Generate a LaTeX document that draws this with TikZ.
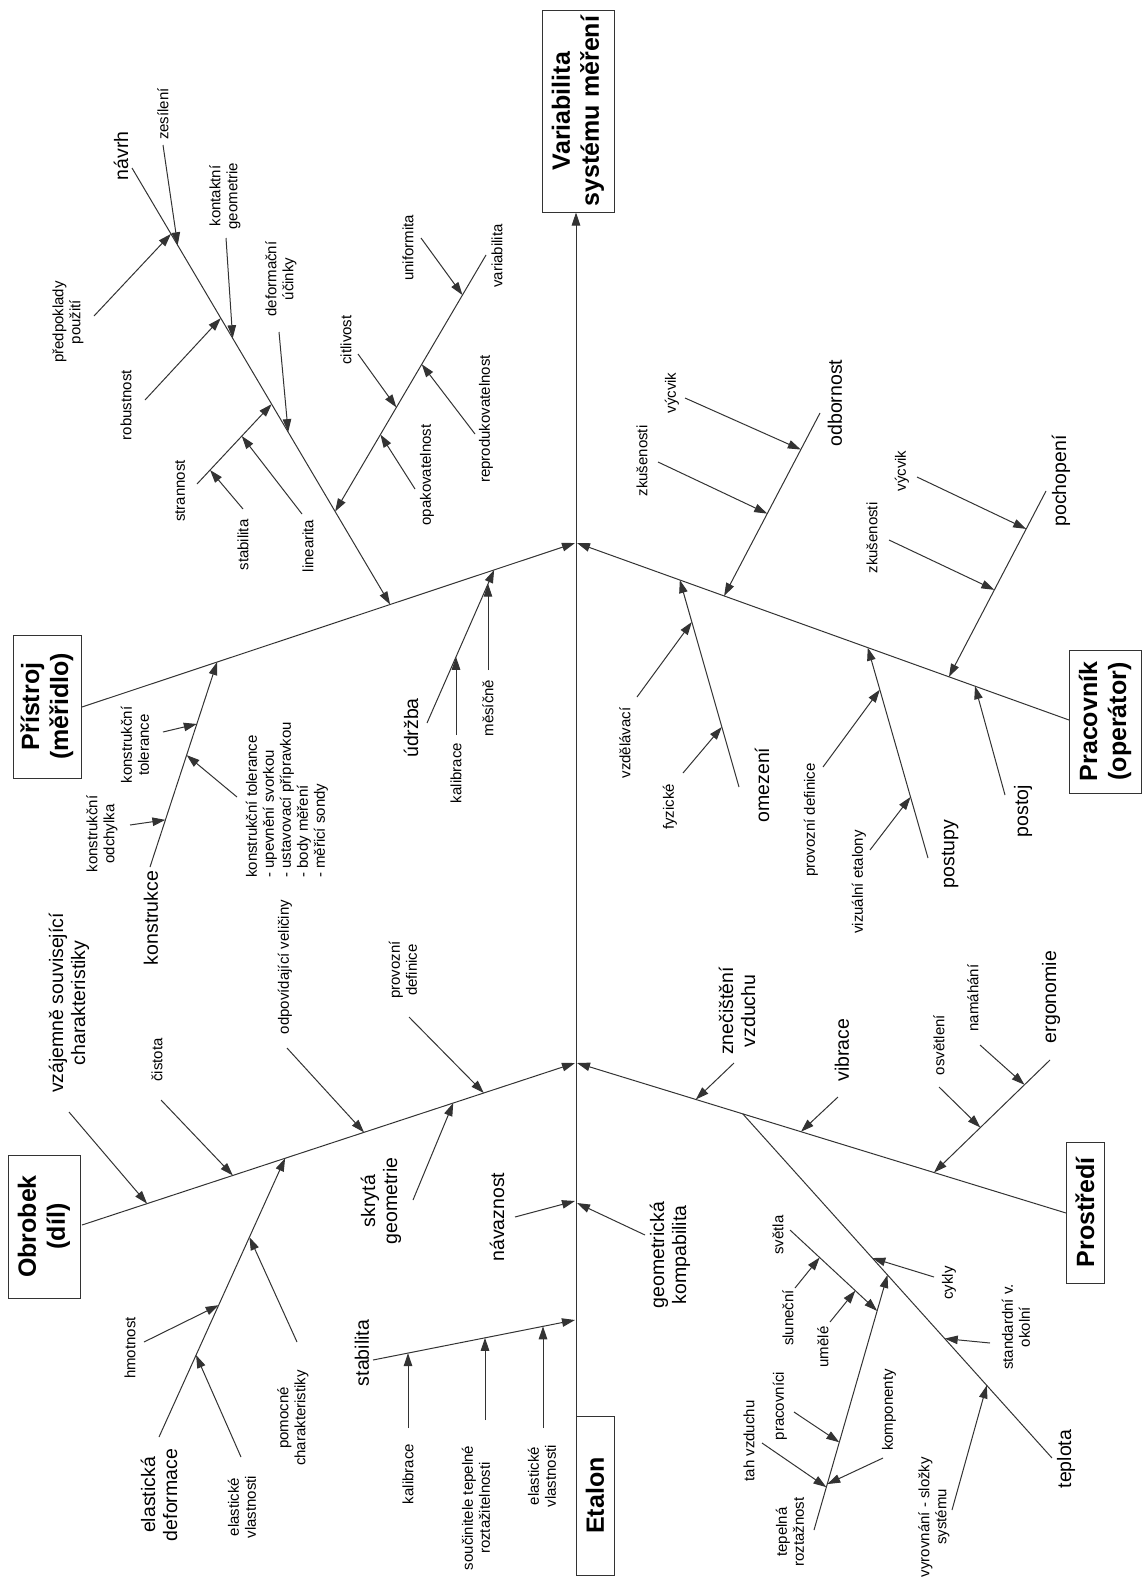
\documentclass[tikz,border=0pt]{standalone}
\usepackage{fontspec}
\setmainfont{Liberation Sans}
\usetikzlibrary{arrows.meta,calc}
\begin{document}
\begin{tikzpicture}[x=1pt,y=-1pt,
  ln/.style={line width=1pt,draw=black!80},
  arr/.style={ln,-{Triangle[length=13pt,width=8.5pt]}},
  sm/.style={rotate=90,inner sep=0pt,align=center,font=\fontsize{15}{17}\selectfont},
  md/.style={rotate=90,inner sep=0pt,align=center,font=\fontsize{19.5}{22}\selectfont},
  bx/.style={rotate=90,draw=black!80,line width=1pt,align=center,inner sep=0pt,font=\bfseries\fontsize{25}{29}\selectfont},
]
\useasboundingbox[fill=white] (0,0) rectangle (1146,1582);

% ---------- boxes ----------
\node[bx,minimum width=202pt,minimum height=72pt] (V) at (578,111) {Variabilita\\systému měření};
\node[bx,minimum width=143pt,minimum height=68pt] (P) at (47,706.5) {Přístroj\\(měřidlo)};
\node[bx,minimum width=143pt,minimum height=72pt] (O) at (44,1226.5) {Obrobek\\(díl)};
\node[bx,minimum width=143pt,minimum height=72pt] (W) at (1105,721.5) {Pracovník\\(operátor)};
\node[bx,minimum width=141pt,minimum height=38pt] (PS) at (1085,1212.5) {Prostředí};
\node[bx,minimum width=159pt,minimum height=38pt] (ET) at (595,1495.5) {Etalon};

% ---------- spine ----------
\coordinate (s0) at (576,1575);
\draw[arr] (s0) -- (s0 |- V.west);

% ---------- Přístroj ----------
\coordinate (pb1) at (82,707); \coordinate (pb2) at (575,543);
\coordinate (nb1) at (132,168); \coordinate (nb2) at ($(pb1)!0.625!(pb2)$);
\coordinate (vb1) at (486,255); \coordinate (vb2) at ($(nb1)!0.787!(nb2)$);
\coordinate (sb1) at (197,484); \coordinate (sb2) at ($(nb1)!0.541!(nb2)$);
\coordinate (kb1) at (150,867); \coordinate (kb2) at ($(pb1)!0.274!(pb2)$);
\coordinate (ub1) at (427,723); \coordinate (ub2) at ($(pb1)!0.836!(pb2)$);
\draw[arr] (pb1) -- (pb2);
\draw[arr] (nb1) -- (nb2);
\draw[arr] (vb1) -- (vb2);
\draw[arr] (sb1) -- (sb2);
\draw[arr] (kb1) -- (kb2);
\draw[arr] (ub1) -- (ub2);

\node[md] (navrh) at (121,156) {návrh};
\node[sm] (zes) at (163,114) {zesílení};
\node[sm] (pred) at (68,322) {předpoklady\\použití};
\node[sm] (kont) at (225,196) {kontaktní\\geometrie};
\node[sm] (rob) at (126,405) {robustnost};
\node[sm] (def) at (281,279) {deformační\\účinky};
\node[sm] (stra) at (180,491) {strannost};
\node[sm] (stab) at (243,545) {stabilita};
\node[sm] (lin) at (308,546) {linearita};
\node[sm] (var) at (497,256) {variabilita};
\node[sm] (uni) at (408,248) {uniformita};
\node[sm] (cit) at (346,340) {citlivost};
\node[sm] (rep) at (486,419) {reprodukovatelnost};
\node[sm] (opa) at (427,475) {opakovatelnost};
\node[md] (kons) at (151,918) {konstrukce};
\node[sm] (odch) at (102,834) {konstrukční\\odchylka};
\node[sm] (tol) at (135,745) {konstrukční\\tolerance};
\node[sm,align=left,anchor=west] (list) at (287,878) {konstrukční tolerance\\- upevnění svorkou\\- ustavovací přípravkou\\- body měření\\- měřicí sondy};
\node[md] (udr) at (411,728) {údržba};
\node[sm] (kalP) at (456,773) {kalibrace};
\node[sm] (mes) at (488,708) {měsíčně};

\coordinate (a1) at (94,316);   \draw[arr] (a1) -- ($(nb1)!0.151!(nb2)$);
\coordinate (a2) at (163,145);  \draw[arr] (a2) -- ($(nb1)!0.177!(nb2)$);
\coordinate (a3) at (145,400);  \draw[arr] (a3) -- ($(nb1)!0.344!(nb2)$);
\coordinate (a4) at (226,238);  \draw[arr] (a4) -- ($(nb1)!0.39!(nb2)$);
\coordinate (a5) at (279,332);  \draw[arr] (a5) -- ($(nb1)!0.605!(nb2)$);
\coordinate (a6) at (421,238);  \draw[arr] (a6) -- ($(vb1)!0.156!(vb2)$);
\coordinate (a7) at (475,434);  \draw[arr] (a7) -- ($(vb1)!0.426!(vb2)$);
\coordinate (a8) at (358,354);  \draw[arr] (a8) -- ($(vb1)!0.594!(vb2)$);
\coordinate (a9) at (415,489);  \draw[arr] (a9) -- ($(vb1)!0.70!(vb2)$);
\coordinate (a10) at (243,509); \draw[arr] (a10) -- ($(sb1)!0.175!(sb2)$);
\coordinate (a11) at (302,514); \draw[arr] (a11) -- ($(sb1)!0.6!(sb2)$);
\coordinate (a12) at (130,825); \draw[arr] (a12) -- ($(kb1)!0.23!(kb2)$);
\coordinate (a13) at (237,797); \draw[arr] (a13) -- ($(kb1)!0.546!(kb2)$);
\coordinate (a14) at (163,732); \draw[arr] (a14) -- ($(kb1)!0.698!(kb2)$);
\coordinate (a15) at (456,735); \coordinate (a15t) at (456,656.8); \draw[arr] (a15) -- (a15t);
\coordinate (a16) at (488,670); \coordinate (a16t) at (488,583.7); \draw[arr] (a16) -- (a16t);

% ---------- Pracovník ----------
\coordinate (wb1) at (1069,720); \coordinate (wb2) at (577,543);
\coordinate (ob1) at (820,413);  \coordinate (ob2) at ($(wb1)!0.701!(wb2)$);
\coordinate (cb1) at (1046,491); \coordinate (cb2) at ($(wb1)!0.244!(wb2)$);
\coordinate (mb1) at (739,787);  \coordinate (mb2) at ($(wb1)!0.791!(wb2)$);
\coordinate (qb1) at (928,858);  \coordinate (qb2) at ($(wb1)!0.409!(wb2)$);
\draw[arr] (wb1) -- (wb2);
\draw[arr] (ob1) -- (ob2);
\draw[arr] (cb1) -- (cb2);
\draw[arr] (mb1) -- (mb2);
\draw[arr] (qb1) -- (qb2);

\node[md] (odb) at (835,403) {odbornost};
\node[sm] (vyc1) at (672,393) {výcvik};
\node[sm] (zku1) at (642,461) {zkušenosti};
\node[md] (poch) at (1061,481) {pochopení};
\node[sm] (vyc2) at (902,471) {výcvik};
\node[sm] (zku2) at (872,538) {zkušenosti};
\node[sm] (vzd) at (625,743) {vzdělávací};
\node[sm] (fyz) at (670,807) {fyzické};
\node[md] (omez) at (762,785) {omezení};
\node[sm] (provW) at (811,820) {provozní definice};
\node[sm] (viz) at (859,882) {vizuální etalony};
\node[md] (post) at (950,854) {postupy};
\node[md] (postoj) at (1023,811) {postoj};

\coordinate (b1) at (685,398);  \draw[arr] (b1) -- ($(ob1)!0.2!(ob2)$);
\coordinate (b2) at (658,462);  \draw[arr] (b2) -- ($(ob1)!0.55!(ob2)$);
\coordinate (b3) at (917,477);  \draw[arr] (b3) -- ($(cb1)!0.204!(cb2)$);
\coordinate (b4) at (889,540);  \draw[arr] (b4) -- ($(cb1)!0.532!(cb2)$);
\coordinate (b5) at (637,697);  \draw[arr] (b5) -- ($(mb1)!0.797!(mb2)$);
\coordinate (b6) at (683,773);  \draw[arr] (b6) -- ($(mb1)!0.29!(mb2)$);
\coordinate (b7) at (823,767);  \draw[arr] (b7) -- ($(qb1)!0.8!(qb2)$);
\coordinate (b8) at (870,850);  \draw[arr] (b8) -- ($(qb1)!0.29!(qb2)$);
\coordinate (b9) at (1005,795); \draw[arr] (b9) -- ($(wb1)!0.191!(wb2)$);

% ---------- Obrobek ----------
\coordinate (obr1) at (82,1225); \coordinate (obr2) at (575,1063);
\coordinate (ed1) at (159,1437);  \coordinate (ed2) at ($(obr1)!0.412!(obr2)$);
\draw[arr] (obr1) -- (obr2);
\draw[arr] (ed1) -- (ed2);

\node[md] (vzaj) at (69,1003) {vzájemně související\\charakteristiky};
\node[sm] (cist) at (157,1060) {čistota};
\node[sm] (odp) at (285,967) {odpovídající veličiny};
\node[sm] (provO) at (403,970) {provozní\\definice};
\node[md] (skr) at (381,1201) {skrytá\\geometrie};
\node[md] (eldef) at (159,1495) {elastická\\deformace};
\node[sm] (hmot) at (130,1348) {hmotnost};
\node[sm] (elvO) at (242,1507) {elastické\\vlastnosti};
\node[sm] (pom) at (293,1418) {pomocné\\charakteristiky};

\coordinate (c1) at (69,1112);  \draw[arr] (c1) -- ($(obr1)!0.132!(obr2)$);
\coordinate (c2) at (161,1100); \draw[arr] (c2) -- ($(obr1)!0.306!(obr2)$);
\coordinate (c3) at (287,1048); \draw[arr] (c3) -- ($(obr1)!0.572!(obr2)$);
\coordinate (c4) at (413,1200); \draw[arr] (c4) -- ($(obr1)!0.753!(obr2)$);
\coordinate (c5) at (409,1017); \draw[arr] (c5) -- ($(obr1)!0.815!(obr2)$);
\coordinate (c6) at (144,1342); \draw[arr] (c6) -- ($(ed1)!0.473!(ed2)$);
\coordinate (c7) at (241,1457); \draw[arr] (c7) -- ($(ed1)!0.294!(ed2)$);
\coordinate (c8) at (297,1342); \draw[arr] (c8) -- ($(ed1)!0.717!(ed2)$);

% ---------- Etalon ----------
\coordinate (st1) at (373,1360); \coordinate (st2) at (575,1320);
\draw[arr] (st1) -- (st2);
\node[md] (stabE) at (362,1353) {stabilita};
\node[sm] (kalE) at (408,1474) {kalibrace};
\node[sm] (souc) at (476,1508) {součinitele tepelné\\roztažitelnosti};
\node[sm] (elvE) at (542,1476) {elastické\\vlastnosti};
\node[md] (nav) at (497,1217) {návaznost};
\node[md] (geo) at (670,1255) {geometrická\\kompabilita};

\coordinate (d1) at (408,1428); \coordinate (d1t) at (408,1353.1); \draw[arr] (d1) -- (d1t);
\coordinate (d2) at (485,1420); \coordinate (d2t) at (485,1337.8); \draw[arr] (d2) -- (d2t);
\coordinate (d3) at (543,1428); \coordinate (d3t) at (543,1326.3); \draw[arr] (d3) -- (d3t);
\coordinate (d4) at (515,1217); \coordinate (d4t) at (575,1201); \draw[arr] (d4) -- (d4t);
\coordinate (d5) at (645,1235); \coordinate (d5t) at (577,1203); \draw[arr] (d5) -- (d5t);

% ---------- Prostředí ----------
\coordinate (ps1) at (1066,1213); \coordinate (ps2) at (577,1063);
\coordinate (tb1) at ($(ps1)!0.661!(ps2)$); \coordinate (tb2) at (1052,1458);
\coordinate (er1) at (1050,1060); \coordinate (er2) at ($(ps1)!0.27!(ps2)$);
\coordinate (te1) at (814,1530);  \coordinate (te2) at ($(tb1)!0.468!(tb2)$);
\coordinate (sv1) at (790,1230);  \coordinate (sv2) at ($(te1)!0.859!(te2)$);
\draw[arr] (ps1) -- (ps2);
\draw[ln] (tb2) -- (tb1);
\draw[arr] (er1) -- (er2);
\draw[arr] (te1) -- (te2);
\draw[arr] (sv1) -- (sv2);

\node[md] (zne) at (737,1011) {znečištění\\vzduchu};
\node[md] (vib) at (842,1050) {vibrace};
\node[md] (erg) at (1051,997) {ergonomie};
\node[sm] (osv) at (939,1045) {osvětlení};
\node[sm] (nam) at (973,998) {namáhání};
\node[md] (tep) at (1066,1459) {teplota};
\node[sm] (cyk) at (949,1283) {cykly};
\node[sm] (std) at (1016,1327) {standardní v.\\okolní};
\node[sm] (vyr) at (934,1517) {vyrovnání - složky\\systému};
\node[sm] (svet) at (778,1235) {světla};
\node[sm] (slun) at (788,1318) {sluneční};
\node[sm] (umel) at (823,1347) {umělé};
\node[sm] (tepr) at (790,1532) {tepelná\\roztažnost};
\node[sm] (tah) at (749,1441) {tah vzduchu};
\node[sm] (komp) at (889,1410) {komponenty};
\node[sm] (prac) at (780,1406) {pracovníci};

\coordinate (e1) at (734,1063);  \draw[arr] (e1) -- ($(ps1)!0.757!(ps2)$);
\coordinate (e2) at (838,1097);  \draw[arr] (e2) -- ($(ps1)!0.542!(ps2)$);
\coordinate (e3) at (939,1087);  \draw[arr] (e3) -- ($(er1)!0.6!(er2)$);
\coordinate (e4) at (980,1045);  \draw[arr] (e4) -- ($(er1)!0.22!(er2)$);
\coordinate (e5) at (934,1277);  \draw[arr] (e5) -- ($(tb1)!0.419!(tb2)$);
\coordinate (e6) at (990,1343);  \draw[arr] (e6) -- ($(tb1)!0.653!(tb2)$);
\coordinate (e7) at (952,1510);  \draw[arr] (e7) -- ($(tb1)!0.789!(tb2)$);
\coordinate (e8) at (795,1288);  \draw[arr] (e8) -- ($(sv1)!0.34!(sv2)$);
\coordinate (e9) at (830,1322);  \draw[arr] (e9) -- ($(sv1)!0.75!(sv2)$);
\coordinate (e10) at (762,1443); \draw[arr] (e10) -- ($(te1)!0.168!(te2)$);
\coordinate (e11) at (883,1458); \draw[arr] (e11) -- ($(te1)!0.18!(te2)$);
\coordinate (e12) at (794,1412); \draw[arr] (e12) -- ($(te1)!0.344!(te2)$);

\end{tikzpicture}
\end{document}
